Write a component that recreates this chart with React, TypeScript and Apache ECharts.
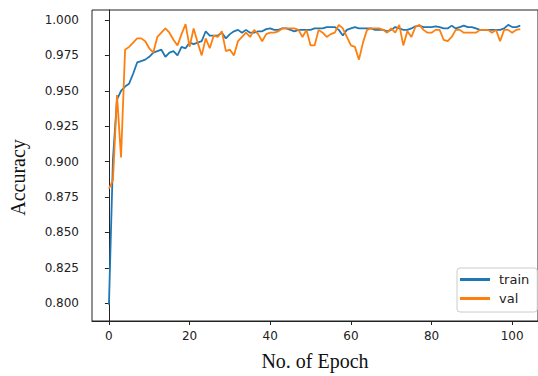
import React, { useEffect, useRef } from "react";
import * as echarts from "echarts";

const seriesNames = ["train", "val"];
const trainAcc = [
  0.799, 0.902, 0.944, 0.95, 0.953, 0.955, 0.962, 0.97, 0.971, 0.972,
  0.974, 0.977, 0.978, 0.979, 0.974, 0.977, 0.978, 0.975, 0.981, 0.98,
  0.984, 0.983, 0.984, 0.985, 0.992, 0.989, 0.989, 0.989, 0.991, 0.987,
  0.99, 0.992, 0.993, 0.991, 0.993, 0.991, 0.991, 0.992, 0.992, 0.9935,
  0.994, 0.993, 0.993, 0.994, 0.994, 0.993, 0.992, 0.993, 0.993, 0.993,
  0.993, 0.994, 0.994, 0.994, 0.995, 0.995, 0.995, 0.993, 0.989, 0.993,
  0.994, 0.995, 0.994, 0.994, 0.994, 0.994, 0.993, 0.993, 0.993, 0.992,
  0.993, 0.995, 0.994, 0.993, 0.993, 0.994, 0.9955, 0.996, 0.995, 0.995,
  0.995, 0.9955, 0.995, 0.994, 0.994, 0.996, 0.994, 0.995, 0.996, 0.995,
  0.995, 0.994, 0.993, 0.993, 0.993, 0.993, 0.993, 0.993, 0.994, 0.9965,
  0.995, 0.995, 0.996,
];
const valAcc = [
  0.881, 0.887, 0.947, 0.903, 0.979, 0.981, 0.984, 0.987, 0.987, 0.985,
  0.98, 0.977, 0.988, 0.991, 0.994, 0.991, 0.986, 0.982, 0.99, 0.997,
  0.981, 0.994, 0.984, 0.975, 0.987, 0.98, 0.989, 0.988, 0.992, 0.978,
  0.979, 0.975, 0.985, 0.988, 0.991, 0.988, 0.993, 0.99, 0.985, 0.99,
  0.991, 0.991, 0.992, 0.994, 0.994, 0.994, 0.994, 0.993, 0.988, 0.993,
  0.982, 0.982, 0.993, 0.991, 0.988, 0.99, 0.991, 0.9965, 0.994, 0.988,
  0.982, 0.981, 0.972, 0.984, 0.993, 0.994, 0.994, 0.994, 0.993, 0.991,
  0.994, 0.991, 0.9965, 0.982, 0.992, 0.988, 0.995, 0.9965, 0.993, 0.991,
  0.991, 0.993, 0.993, 0.986, 0.985, 0.988, 0.993, 0.993, 0.991, 0.991,
  0.991, 0.991, 0.993, 0.993, 0.993, 0.991, 0.993, 0.985, 0.993, 0.993,
  0.991, 0.993, 0.9935,
];
const xTicks = [0, 20, 40, 60, 80, 100];
const yTicks = [0.8, 0.825, 0.85, 0.875, 0.9, 0.925, 0.95, 0.975, 1.0];

const colors = ["#1f77b4", "#ff7f0e"];

export default function App() {
  const ref = useRef<HTMLDivElement>(null);
  useEffect(() => {
    if (!ref.current) return;
    const chart = echarts.init(ref.current, null, { renderer: "svg" });
    const toPairs = (arr: number[]) => arr.map((v, i) => [i, v]);
    const tickFont = { fontFamily: "DejaVu Sans", fontSize: 12, color: "#222" };
    chart.setOption({
      animation: false,
      backgroundColor: "#fff",
      grid: {
        left: 92,
        top: 10,
        width: 447,
        height: 313,
        show: true,
        borderColor: "#222",
        borderWidth: 1,
        containLabel: false,
      },
      legend: {
        orient: "vertical",
        left: 457,
        top: 268,
        data: seriesNames,
        icon: "rect",
        itemWidth: 30,
        itemHeight: 3,
        itemGap: 6,
        padding: [5, 8, 7, 3],
        borderColor: "#ccc",
        borderWidth: 1,
        borderRadius: 3,
        backgroundColor: "#fff",
        textStyle: { fontFamily: "DejaVu Sans", fontSize: 13, color: "#222", padding: [0, 0, 0, 4] },
      },
      xAxis: {
        type: "value",
        min: -4.2,
        max: 106.4,
        name: "No. of Epoch",
        nameLocation: "middle",
        nameGap: 30,
        nameTextStyle: { fontFamily: "Liberation Serif", fontSize: 20, color: "#111" },
        axisLine: { show: true, lineStyle: { color: "#222", width: 1 } },
        axisTick: { show: true, length: 4, customValues: xTicks, lineStyle: { color: "#222" } },
        axisLabel: { ...tickFont, margin: 9, customValues: xTicks, formatter: (v: number) => String(v) },
        splitLine: { show: false },
      },
      yAxis: {
        type: "value",
        min: 0.7875,
        max: 1.00702,
        name: "Accuracy",
        nameLocation: "middle",
        nameGap: 64,
        nameRotate: 90,
        nameTextStyle: { fontFamily: "Liberation Serif", fontSize: 20, color: "#111", padding: [0, 24, 0, 0] },
        axisLine: { show: true, lineStyle: { color: "#222", width: 1 } },
        axisTick: { show: true, length: 4, customValues: yTicks, lineStyle: { color: "#222" } },
        axisLabel: { ...tickFont, margin: 13, customValues: yTicks, formatter: (v: number) => v.toFixed(3) },
        splitLine: { show: false },
      },
      series: [
        {
          name: seriesNames[0],
          type: "line",
          data: toPairs(trainAcc),
          showSymbol: false,
          symbol: "none",
          lineStyle: { color: colors[0], width: 1.8 },
          itemStyle: { color: colors[0] },
          z: 2,
        },
        {
          name: seriesNames[1],
          type: "line",
          data: toPairs(valAcc),
          showSymbol: false,
          symbol: "none",
          lineStyle: { color: colors[1], width: 1.8 },
          itemStyle: { color: colors[1] },
          z: 3,
        },
      ],
    });
    return () => chart.dispose();
  }, []);
  return <div ref={ref} style={{ width: 538, height: 376, position: "absolute", left: 0, top: 0 }} />;
}
